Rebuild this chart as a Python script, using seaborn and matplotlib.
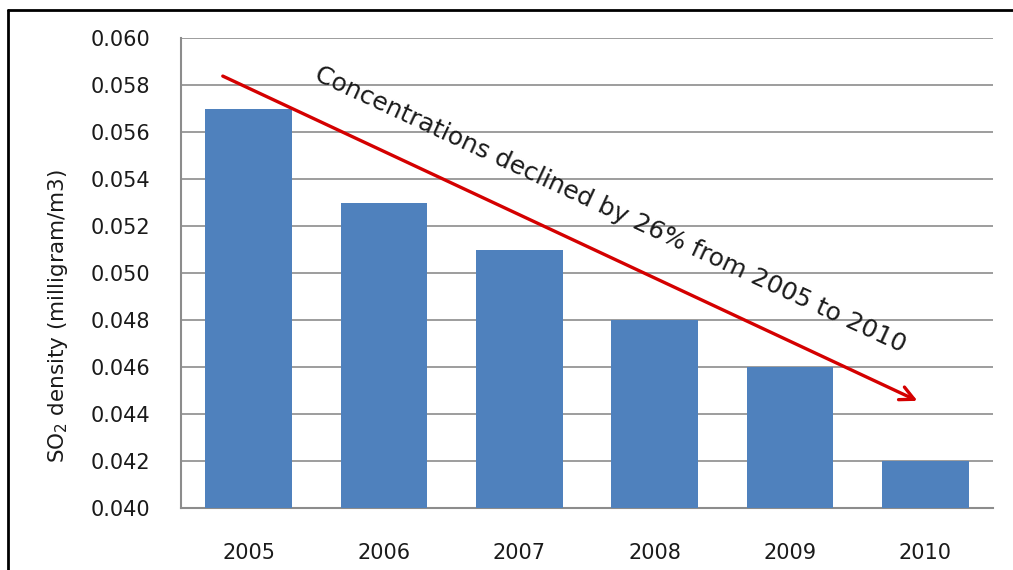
import numpy as np
import pandas as pd
import seaborn as sns
import matplotlib.pyplot as plt
from matplotlib.lines import Line2D

years = ['2005', '2006', '2007', '2008', '2009', '2010']
so2 = [0.057, 0.053, 0.051, 0.048, 0.046, 0.042]
y_ticks = [0.040, 0.042, 0.044, 0.046, 0.048, 0.050, 0.052, 0.054, 0.056, 0.058, 0.060]
note = 'Concentrations declined by 26% from 2005 to 2010'

sns.set_style("white")
plt.rcParams['font.family'] = ['DejaVu Sans']

df = pd.DataFrame({'year': years, 'so2': so2})

fig = plt.figure(figsize=(10.13, 5.70), dpi=100)
ax = fig.add_axes([0.1787, 0.1088, 0.8016, 0.8245])

sns.barplot(data=df, x='year', y='so2', color='#4F81BD', saturation=1, width=0.64,
            edgecolor='none', linewidth=0, ax=ax, zorder=3)

ax.set_ylim(0.040, 0.060)
ax.set_xlim(-0.5, 5.5)
ax.set_yticks(y_ticks)
ax.set_yticklabels(['%.3f' % v for v in y_ticks])
ax.yaxis.grid(True, color='#8c8c8c', lw=1.2, zorder=0)
ax.set_axisbelow(True)
ax.tick_params(axis='y', length=0, pad=22, labelsize=15, labelcolor='#1a1a1a')
ax.tick_params(axis='x', length=0, pad=25, labelsize=15, labelcolor='#1a1a1a')
ax.set_xlabel('')
ax.set_ylabel('SO$_2$ density (milligram/m3)', fontsize=15.5, color='#1a1a1a')
ax.yaxis.set_label_coords(-0.137, 0.409)
for s in ['top', 'right']:
    ax.spines[s].set_visible(False)
for s in ['left', 'bottom']:
    ax.spines[s].set_color('#8c8c8c')
    ax.spines[s].set_linewidth(1.5)

# trend arrow and note
ax.annotate('', xy=(4.96, 0.04451), xytext=(-0.21, 0.05843),
            arrowprops=dict(arrowstyle='->,head_length=1.0,head_width=0.5', color='#d40000', lw=2.4),
            zorder=5)
ax.text(2.67, 0.05268, note, rotation=-24.9, rotation_mode='anchor',
        ha='center', va='center', fontsize=18, color='#1a1a1a', zorder=6)

# frame around the chart
fig.add_artist(Line2D([0.0079, 0.0079], [0, 0.9825], color='black', lw=2, transform=fig.transFigure))
fig.add_artist(Line2D([0.0079, 1], [0.9825, 0.9825], color='black', lw=2, transform=fig.transFigure))

fig.savefig('out.png', dpi=100)
